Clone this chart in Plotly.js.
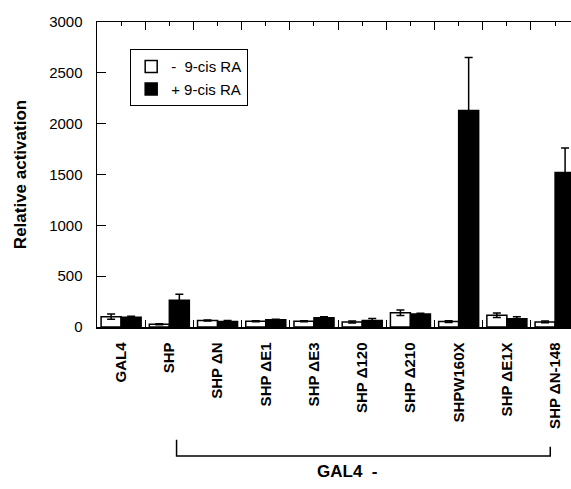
<!DOCTYPE html>
<html>
<head>
<meta charset="utf-8">
<script src="https://cdn.plot.ly/plotly-3.0.1.min.js"></script>
<style>html,body{margin:0;padding:0;background:#fff;}#chart{width:571px;height:489px;}</style>
</head>
<body>
<div id="chart"></div>
<script>
const categories = ["GAL4","SHP","SHP \u0394N","SHP \u0394E1","SHP \u0394E3","SHP \u0394120","SHP \u0394210","SHPW160X","SHP \u0394E1X","SHP \u0394N-148"];
const minusRA = [102, 27, 63, 56, 56, 50, 141, 53, 115, 50];
const minusRAErr = [25, 5, 5, 5, 5, 10, 27, 8, 22, 8];
const plusRA = [95, 263, 55, 72, 92, 63, 128, 2130, 80, 1520];
const plusRAErr = [10, 60, 8, 5, 8, 20, 8, 520, 20, 240];
const seriesNames = ["-  9-cis RA", "+ 9-cis RA"];
const groupLabel = "GAL4  -";

const FONT = "Liberation Sans, Arial, Helvetica, sans-serif";

const traces = [
  {
    type: "bar", x: categories, y: minusRA, name: seriesNames[0],
    marker: {color: "#ffffff", line: {color: "#000000", width: 1.5}},
    error_y: {type: "data", array: minusRAErr, visible: true, color: "#000", thickness: 1.5, width: 4}
  },
  {
    type: "bar", x: categories, y: plusRA, name: seriesNames[1],
    marker: {color: "#000000", line: {color: "#000000", width: 1.5}},
    error_y: {type: "data", array: plusRAErr, visible: true, color: "#000", thickness: 1.5, width: 4}
  },
  {
    type: "scatter", x: [0], y: [0], xaxis: "x2", mode: "markers",
    marker: {opacity: 0}, showlegend: false, hoverinfo: "skip"
  }
];

const layout = {
  width: 571, height: 489,
  margin: {l: 97, r: 0, t: 22, b: 162},
  paper_bgcolor: "#fff", plot_bgcolor: "#fff",
  font: {family: FONT, color: "#000", size: 15},
  barmode: "group", bargap: 0.17, bargroupgap: 0,
  showlegend: true,
  legend: {
    x: 0.07, y: 0.911, xanchor: "left", yanchor: "top",
    bordercolor: "#000", borderwidth: 1, bgcolor: "#fff",
    font: {family: FONT, size: 15, color: "#000"},
    tracegroupgap: 0, itemwidth: 30
  },
  xaxis: {
    type: "category", range: [-0.5, 9.33],
    showline: true, linecolor: "#000", linewidth: 1.5, mirror: false,
    ticks: "inside", tickson: "boundaries", ticklen: 7, tickcolor: "#000", tickwidth: 1,
    tickangle: -90, ticklabelstandoff: 8,
    tickfont: {family: FONT, size: 15, weight: "bold", color: "#000"},
    showgrid: false, zeroline: false
  },
  xaxis2: {
    overlaying: "x", side: "top", anchor: "y", type: "linear", range: [-0.5, 9.33],
    showline: true, linecolor: "#000", linewidth: 1.5,
    ticks: "inside", tickmode: "linear", tick0: 0.5, dtick: 1, ticklen: 8, tickcolor: "#000", tickwidth: 1,
    minor: {ticks: "inside", tick0: 0, dtick: 1, ticklen: 4, tickcolor: "#000", tickwidth: 1},
    showticklabels: false, showgrid: false, zeroline: false
  },
  yaxis: {
    range: [0, 3000], tickmode: "linear", tick0: 0, dtick: 500,
    showline: true, linecolor: "#000", linewidth: 1.5,
    ticks: "inside", ticklen: 9, tickcolor: "#000", tickwidth: 1,
    ticklabelstandoff: 10,
    tickfont: {family: FONT, size: 15, color: "#000"},
    showgrid: false, zeroline: false,
    title: {text: "Relative activation", standoff: 18, font: {family: FONT, size: 17, weight: "bold", color: "#000"}}
  },
  shapes: [
    {type: "path", xref: "x", yref: "paper",
     path: "M 1.15 -0.37 L 1.15 -0.423 L 8.9 -0.423 L 8.9 -0.393",
     line: {color: "#000", width: 1.5}}
  ],
  annotations: [
    {xref: "paper", yref: "paper", x: 0.527, y: -0.475, xanchor: "center", yanchor: "middle",
     text: "<b>" + groupLabel + "</b>", showarrow: false,
     font: {family: FONT, size: 17, color: "#000"}}
  ]
};

Plotly.newPlot("chart", traces, layout, {displayModeBar: false, staticPlot: true});
</script>
</body>
</html>
